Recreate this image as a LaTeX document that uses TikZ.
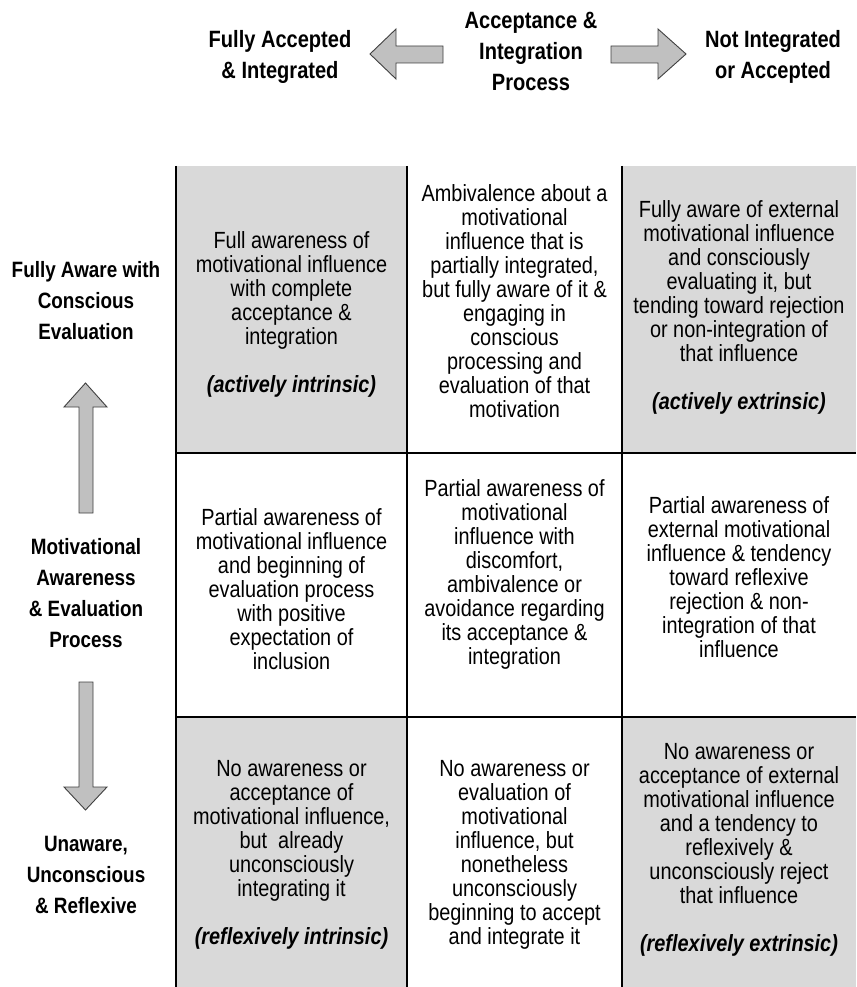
\documentclass[tikz,border=0pt]{standalone}
\usepackage{fontspec}
\setmainfont{Liberation Sans}[FakeStretch=0.85]
\begin{document}
\begin{tikzpicture}[x=1pt,y=-1pt,
  cellgrey/.style={fill=cellfill,draw=none},
  gridline/.style={line width=2pt,draw=black},
  bigarrow/.style={fill=arrowfill,draw=arrowline,line width=0.9pt,line join=miter},
  celltext/.style={align=center,inner sep=0pt,font=\fontsize{23.4}{24}\selectfont},
  axislabel/.style={align=center,inner sep=0pt,font=\fontsize{22.2}{31}\selectfont\bfseries},
  toplabel/.style={align=center,inner sep=0pt,font=\fontsize{23.6}{31}\selectfont\bfseries}]
\definecolor{cellfill}{HTML}{D9D9D9}
\definecolor{arrowfill}{HTML}{C0C0C0}
\definecolor{arrowline}{HTML}{404040}
\useasboundingbox (0,0) rectangle (856,987);

% shaded corner cells
\fill[cellgrey] (176,166) rectangle (407,453);
\fill[cellgrey] (622,166) rectangle (856,453);
\fill[cellgrey] (176,717) rectangle (407,987);
\fill[cellgrey] (622,717) rectangle (856,987);

% grid lines
\draw[gridline] (176,166) -- (176,987);
\draw[gridline] (407,166) -- (407,987);
\draw[gridline] (622,166) -- (622,987);
\draw[gridline] (176,453) -- (856,453);
\draw[gridline] (176,717) -- (856,717);

% top process arrows
\draw[bigarrow] (443,46) -- (396,46) -- (396,29) -- (370,54) -- (396,79) -- (396,63) -- (443,63) -- cycle;
\draw[bigarrow] (611,46) -- (658,46) -- (658,29) -- (686,54) -- (658,79) -- (658,63) -- (611,63) -- cycle;

% left process arrows
\draw[bigarrow] (79,513) -- (79,407) -- (64,407) -- (85.5,383) -- (107,407) -- (93,407) -- (93,513) -- cycle;
\draw[bigarrow] (79,682) -- (93,682) -- (93,787) -- (107,787) -- (85.5,810) -- (64,787) -- (79,787) -- cycle;

% top labels
\node[toplabel] (accepted) at (280,57) {Fully Accepted\\\& Integrated};
\node[toplabel] (process) at (531,51) {Acceptance \&\\Integration\\Process};
\node[toplabel] (rejected) at (773,57) {Not Integrated\\or Accepted};

% left labels
\node[axislabel] (aware) at (86,301) {Fully Aware with\\Conscious\\Evaluation};
\node[axislabel] (evaluation) at (86,593) {Motivational\\Awareness\\\& Evaluation\\Process};
\node[axislabel] (unaware) at (86,875) {Unaware,\\Unconscious\\\& Reflexive};

% row 1
\node[celltext] (c11) at (291.5,314.5) {Full awareness of\\motivational influence\\with complete\\acceptance \&\\integration\\[24pt]\textbf{\itshape (actively intrinsic)}};
\node[celltext] (c12) at (514.5,301.5) {Ambivalence about a\\motivational\\influence that is\\partially integrated,\\but fully aware of it \&\\engaging in\\conscious\\processing and\\evaluation of that\\motivation};
\node[celltext] (c13) at (739,307.5) {Fully aware of external\\motivational influence\\and consciously\\evaluating it, but\\tending toward rejection\\or non-integration of\\that influence\\[24pt]\textbf{\itshape (actively extrinsic)}};

% row 2
\node[celltext] (c21) at (291.5,589.5) {Partial awareness of\\motivational influence\\and beginning of\\evaluation process\\with positive\\expectation of\\inclusion};
\node[celltext] (c22) at (514.5,574) {Partial awareness of\\motivational\\influence with\\discomfort,\\ambivalence or\\avoidance regarding\\its acceptance \&\\integration};
\node[celltext] (c23) at (739,577) {Partial awareness of\\external motivational\\influence \& tendency\\toward reflexive\\rejection \& non-\\integration of that\\influence};

% row 3
\node[celltext] (c31) at (291.5,855) {No awareness or\\acceptance of\\motivational influence,\\but\ \ already\\unconsciously\\integrating it\\[24pt]\textbf{\itshape (reflexively intrinsic)}};
\node[celltext] (c32) at (514.5,855) {No awareness or\\evaluation of\\motivational\\influence, but\\nonetheless\\unconsciously\\beginning to accept\\and integrate it};
\node[celltext] (c33) at (739,850) {No awareness or\\acceptance of external\\motivational influence\\and a tendency to\\reflexively \&\\unconsciously reject\\that influence\\[24pt]\textbf{\itshape (reflexively extrinsic)}};
\end{tikzpicture}
\end{document}
